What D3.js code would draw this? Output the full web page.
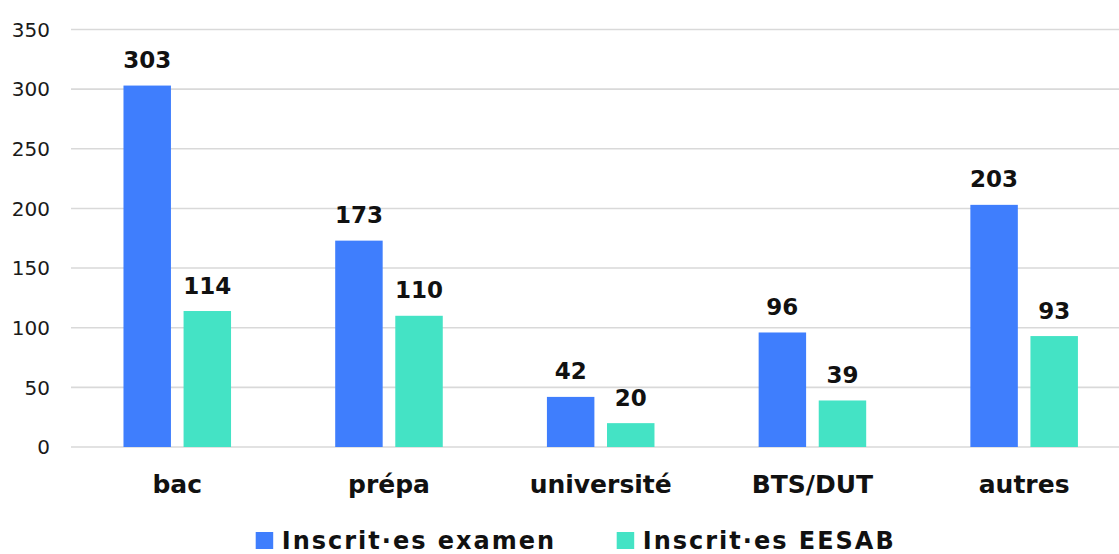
<!DOCTYPE html>
<html>
<head>
<meta charset="utf-8">
<script src="https://cdn.jsdelivr.net/npm/d3@7"></script>
<style>
  html, body { margin: 0; padding: 0; background: #ffffff; }
  svg { display: block; font-family: "DejaVu Sans", sans-serif; }
</style>
</head>
<body>
<svg id="chart" width="1119" height="554"></svg>
<script>
const categories = ["bac", "prépa", "université", "BTS/DUT", "autres"];
const seriesNames = ["Inscrit·es examen", "Inscrit·es EESAB"];
const examen = [303, 173, 42, 96, 203];
const eesab = [114, 110, 20, 39, 93];
const yTicks = [0, 50, 100, 150, 200, 250, 300, 350];
const colors = ["#3f7efd", "#44e3c5"];

const data = categories.map((c, i) => ({ cat: c, values: [examen[i], eesab[i]] }));

const svg = d3.select("#chart");

const y = d3.scaleLinear().domain([0, 350]).range([447, 29.5]);
const x0 = d3.scaleBand().domain(categories).range([71.4, 1130])
  .paddingInner(0.492).paddingOuter(0.246);
const x1 = d3.scaleBand().domain([0, 1]).range([0, x0.bandwidth()])
  .paddingInner(0.21).paddingOuter(0);

// gridlines
svg.append("g").selectAll("line").data(yTicks).join("line")
  .attr("x1", 71).attr("x2", 1119)
  .attr("y1", d => y(d)).attr("y2", d => y(d))
  .attr("stroke", "#d9d9d9").attr("stroke-width", 1.6);

// y tick labels
svg.append("g").selectAll("text").data(yTicks).join("text")
  .attr("x", 50).attr("y", d => y(d))
  .attr("dy", "0.36em")
  .attr("text-anchor", "end")
  .attr("font-size", 20)
  .attr("fill", "#1a1a1a")
  .text(d => d);

// bars
const groups = svg.append("g").selectAll("g").data(data).join("g")
  .attr("transform", d => `translate(${x0(d.cat)},0)`);

groups.selectAll("rect").data(d => d.values.map((v, k) => ({ v, k }))).join("rect")
  .attr("x", d => x1(d.k))
  .attr("width", x1.bandwidth())
  .attr("y", d => y(d.v))
  .attr("height", d => y(0) - y(d.v))
  .attr("fill", d => colors[d.k]);

groups.selectAll("text.val").data(d => d.values.map((v, k) => ({ v, k }))).join("text")
  .attr("class", "val")
  .attr("x", d => x1(d.k) + x1.bandwidth() / 2)
  .attr("y", d => y(d.v) - 17.5)
  .attr("text-anchor", "middle")
  .attr("font-size", 23)
  .attr("font-weight", "bold")
  .attr("fill", "#111")
  .text(d => d.v);

// category labels
svg.append("g").selectAll("text").data(categories).join("text")
  .attr("x", d => x0(d) + x0.bandwidth() / 2)
  .attr("y", 493)
  .attr("text-anchor", "middle")
  .attr("font-size", 25)
  .attr("font-weight", "bold")
  .attr("fill", "#111")
  .text(d => d);

// legend
const legendX = [255.7, 616.7];
const legend = svg.append("g").selectAll("g").data(seriesNames).join("g")
  .attr("transform", (d, i) => `translate(${legendX[i]},532)`);
legend.append("rect")
  .attr("width", 17.5).attr("height", 17)
  .attr("fill", (d, i) => colors[i]);
legend.append("text")
  .attr("x", 26).attr("y", 16.5)
  .attr("font-size", 24)
  .attr("font-weight", "bold")
  .attr("letter-spacing", 2)
  .attr("fill", "#111")
  .text(d => d);
</script>
</body>
</html>
